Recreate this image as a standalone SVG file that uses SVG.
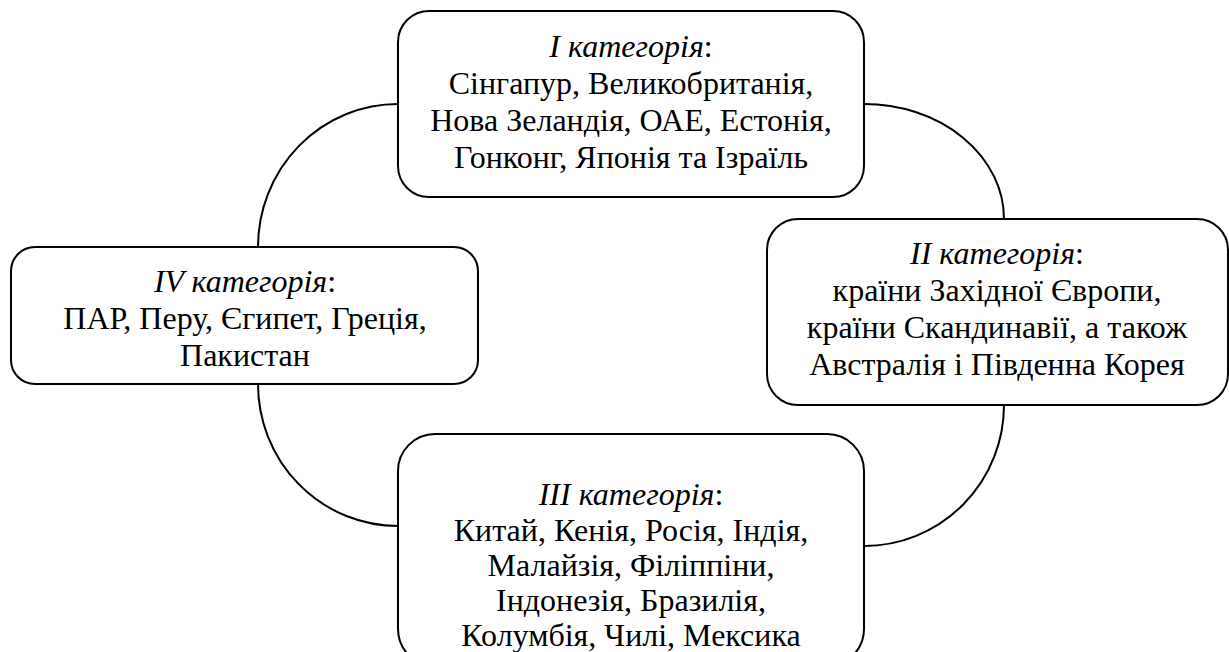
<svg xmlns="http://www.w3.org/2000/svg" width="1229" height="652" viewBox="0 0 1229 652">
<style>
.box{fill:#fff;stroke:#000;stroke-width:2}
.con{fill:none;stroke:#000;stroke-width:2}
.t{font-size:32px;fill:#000;text-anchor:middle}
.it{font-style:italic}
</style>
<rect width="1229" height="652" fill="#fff"/>
<g id="connectors">
<path class="con" d="M398,104 A140,143 0 0 0 258,247"/>
<path class="con" d="M864,104 A140,115 0 0 1 1004,219"/>
<path class="con" d="M1004,405 A140,141 0 0 1 864,546"/>
<path class="con" d="M258,384 A140,142 0 0 0 398,526"/>
</g>
<g font-family="'Liberation Serif', 'Times New Roman', 'DejaVu Serif', serif">
<g id="node-1">
<rect class="box" x="398" y="11" width="466" height="186" rx="31"/>
<text class="t" x="631" y="57"><tspan class="it">І категорія</tspan>:</text>
<text class="t" x="631" y="94">Сінгапур, Великобританія,</text>
<text class="t" x="631" y="131">Нова Зеландія, ОАЕ, Естонія,</text>
<text class="t" x="631" y="168">Гонконг, Японія та Ізраїль</text>
</g>
<g id="node-2">
<rect class="box" x="767" y="219" width="461" height="186" rx="31"/>
<text class="t" x="997" y="264"><tspan class="it">ІІ категорія</tspan>:</text>
<text class="t" x="997" y="301">країни Західної Європи,</text>
<text class="t" x="997" y="338">країни Скандинавії, а також</text>
<text class="t" x="997" y="375">Австралія і Південна Корея</text>
</g>
<g id="node-4">
<rect class="box" x="11" y="247" width="467" height="137" rx="24"/>
<text class="t" x="245" y="292"><tspan class="it">IV категорія</tspan>:</text>
<text class="t" x="245" y="329">ПАР, Перу, Єгипет, Греція,</text>
<text class="t" x="245" y="366">Пакистан</text>
</g>
<g id="node-3">
<rect class="box" x="398" y="434" width="466" height="232" rx="37"/>
<text class="t" x="631" y="505"><tspan class="it">ІІІ категорія</tspan>:</text>
<text class="t" x="631" y="541">Китай, Кенія, Росія, Індія,</text>
<text class="t" x="631" y="576">Малайзія, Філіппіни,</text>
<text class="t" x="631" y="611">Індонезія, Бразилія,</text>
<text class="t" x="631" y="646">Колумбія, Чилі, Мексика</text>
</g>
</g>
</svg>
